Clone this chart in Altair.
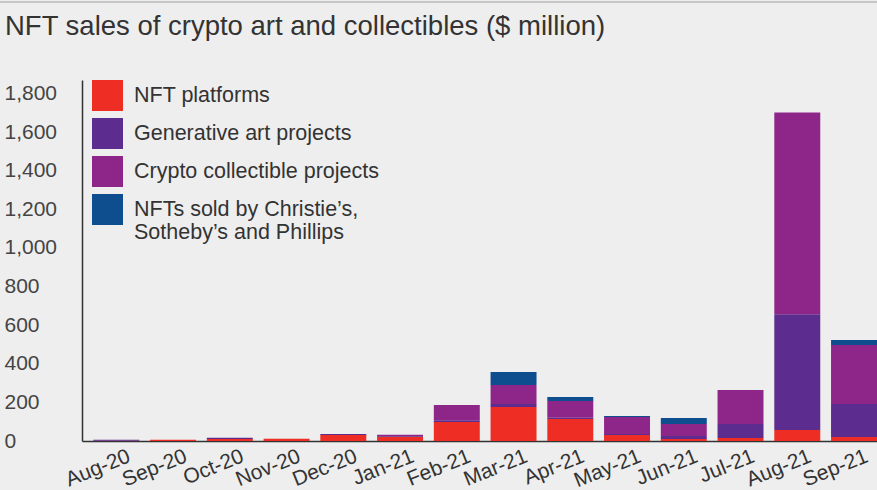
import altair as alt
import pandas as pd

months = ["Aug-20", "Sep-20", "Oct-20", "Nov-20", "Dec-20", "Jan-21", "Feb-21",
          "Mar-21", "Apr-21", "May-21", "Jun-21", "Jul-21", "Aug-21", "Sep-21"]
series = ["NFT platforms", "Generative art projects", "Crypto collectible projects",
          "NFTs sold by Christie’s, Sotheby’s and Phillips"]
colors = ["#ee2e24", "#5c2d8e", "#8e2689", "#0e4d8e"]

platforms   = [1, 7, 10, 12, 31, 22, 98, 176, 114, 31, 10, 16, 57, 21]
generative  = [6, 0, 7, 0, 5, 4, 10, 16, 7, 5, 16, 72, 600, 171]
collectible = [0, 0, 0, 0, 0, 7, 78, 98, 86, 88, 62, 176, 1045, 305]
auction     = [0, 0, 0, 0, 0, 0, 0, 67, 21, 5, 31, 0, 0, 26]
y_ticks = [0, 200, 400, 600, 800, 1000, 1200, 1400, 1600, 1800]

values = [platforms, generative, collectible, auction]
rows = []
for i, s in enumerate(series):
    for m, v in zip(months, values[i]):
        rows.append({"month": m, "series": s, "value": v, "order": i})
df = pd.DataFrame(rows)

FONT = "Liberation Sans"
label_expr = ("datum.label == 'NFTs sold by Christie’s, Sotheby’s and Phillips' ? "
              "['NFTs sold by Christie’s,', 'Sotheby’s and Phillips'] : datum.label")

bars = alt.Chart(df).mark_bar().encode(
    x=alt.X("month:N", sort=months,
            scale=alt.Scale(paddingInner=0.19, paddingOuter=0.1, align=1),
            axis=alt.Axis(title=None, labelAngle=-22, labelAlign="right", labelBaseline="top",
                          labelOffset=9, labelPadding=4, labelFontSize=21, labelColor="#333",
                          labelFont=FONT, ticks=False, domainColor="#333", domainWidth=1.5,
                          labelOverlap=False, labelBound=False)),
    y=alt.Y("value:Q", stack="zero",
            scale=alt.Scale(domain=[0, 1870], nice=False),
            axis=alt.Axis(values=y_ticks, title=None, grid=False, ticks=False,
                          labelAlign="left", labelBaseline="middle", labelPadding=78,
                          labelFontSize=21, labelColor="#444", labelFont=FONT, format=",d",
                          domainColor="#333", domainWidth=1.5)),
    color=alt.Color("series:N", scale=alt.Scale(domain=series, range=colors),
                    legend=alt.Legend(title=None, orient="none", legendX=10, legendY=0,
                                      symbolType="square", symbolSize=961, symbolStrokeWidth=0,
                                      symbolOpacity=1, labelFontSize=21.5, labelColor="#333",
                                      labelFont=FONT, labelLimit=400, labelOffset=11,
                                      rowPadding=7, padding=0, labelExpr=label_expr)),
    order=alt.Order("order:Q"),
)

topline = alt.Chart(pd.DataFrame({"a": [0]})).mark_rule(color="#b8b8b8", strokeWidth=1.5).encode(
    x=alt.value(-82), x2=alt.value(795), y=alt.value(-78)
)

chart = alt.layer(bars, topline).properties(
    width=795, height=361,
    autosize=alt.AutoSizeParams(type="none"),
    padding={"left": 82, "top": 80, "right": 0, "bottom": 49},
    background="#eeeeee",
    title=alt.TitleParams(text="NFT sales of crypto art and collectibles ($ million)",
                          anchor="start", frame="group", dx=-77, dy=61, fontSize=27.5, font=FONT,
                          fontWeight="normal", color="#333", baseline="alphabetic", offset=0),
).configure_view(stroke=None)

chart.save("out.html", embed_options={"renderer": "svg", "actions": False})
